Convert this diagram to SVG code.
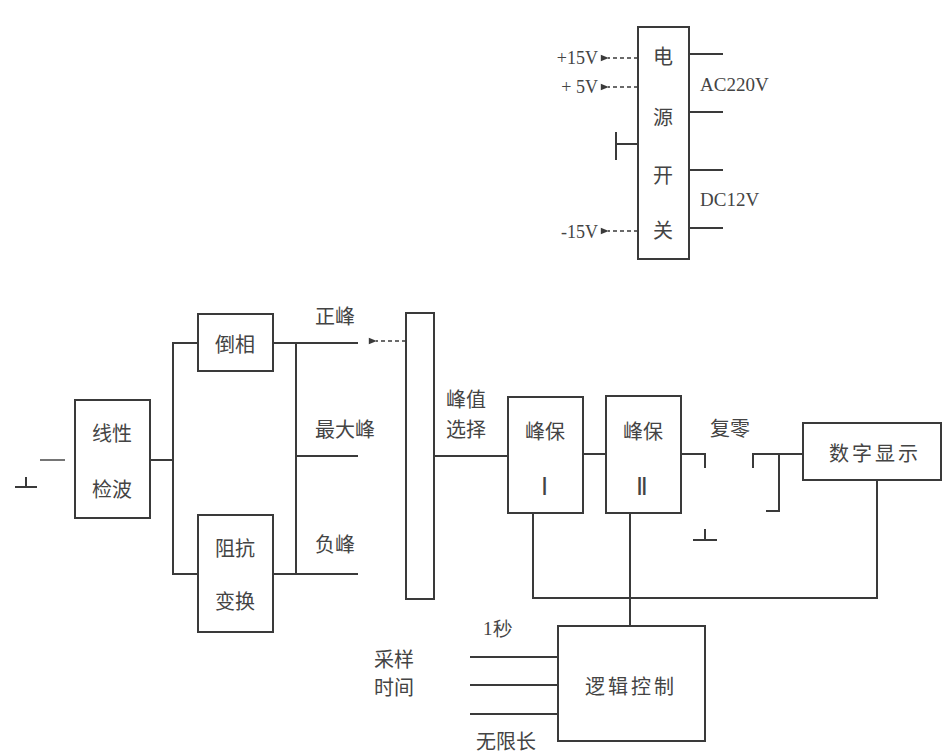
<svg xmlns="http://www.w3.org/2000/svg" width="943" height="754" viewBox="0 0 943 754">
<defs>
<style>
.b{fill:none;stroke:#3a3a3a;stroke-width:2}
.l{fill:none;stroke:#3a3a3a;stroke-width:2}
.d{fill:none;stroke:#3a3a3a;stroke-width:1.6;stroke-dasharray:4 3}
.t{font-family:"Noto Sans CJK SC","Liberation Serif",serif;font-size:20px;fill:#444;text-anchor:middle;dominant-baseline:central}
.s{font-family:"Liberation Serif",serif;font-size:18px;fill:#444;dominant-baseline:central}
.r{font-family:"Liberation Serif",serif;font-size:24px;fill:#444;text-anchor:middle;dominant-baseline:central}
</style>
<marker id="ah" viewBox="0 0 10 10" refX="1" refY="5" markerWidth="10" markerHeight="8" orient="auto-start-reverse" markerUnits="userSpaceOnUse">
<path d="M0,5 L10,1 L10,9 Z" fill="#3a3a3a"/>
</marker>
</defs>
<rect width="943" height="754" fill="#fff"/>

<g id="power">
<rect class="b" x="638" y="27" width="51" height="232"/>
<text class="t" x="663" y="55">电</text>
<text class="t" x="663" y="116">源</text>
<text class="t" x="663" y="174">开</text>
<text class="t" x="663" y="229">关</text>
</g>
<g id="power-labels">
<text class="s" x="598" y="58" text-anchor="end">+15V</text>
<text class="s" x="598" y="87" text-anchor="end">+ 5V</text>
<text class="s" x="598" y="232" text-anchor="end">-15V</text>
<text class="s" x="700" y="84" style="font-size:19px">AC220V</text>
<text class="s" x="700" y="199" style="font-size:19px">DC12V</text>
</g>

<g id="linear">
<rect class="b" x="75" y="400" width="75" height="118"/>
<text class="t" x="112" y="432">线性</text>
<text class="t" x="112" y="488">检波</text>
</g>
<g id="invert">
<rect class="b" x="198" y="314" width="75" height="57"/>
<text class="t" x="235" y="343">倒相</text>
</g>
<g id="impedance">
<rect class="b" x="198" y="515" width="75" height="117"/>
<text class="t" x="235" y="547">阻抗</text>
<text class="t" x="235" y="600">变换</text>
</g>
<g id="select">
<rect class="b" x="406" y="313" width="28" height="286"/>
<text class="t" x="466" y="398">峰值</text>
<text class="t" x="466" y="428">选择</text>
</g>
<g id="hold1">
<rect class="b" x="508" y="397" width="75" height="116"/>
<text class="t" x="545" y="430">峰保</text>
<text class="r" x="544" y="487">Ⅰ</text>
</g>
<g id="hold2">
<rect class="b" x="606" y="396" width="75" height="117"/>
<text class="t" x="643" y="430">峰保</text>
<text class="r" x="642" y="487">Ⅱ</text>
</g>
<g id="display">
<rect class="b" x="803" y="423" width="138" height="57"/>
<text class="t" x="875" y="452" style="letter-spacing:3px">数字显示</text>
</g>
<g id="logic">
<rect class="b" x="558" y="626" width="147" height="115"/>
<text class="t" x="631" y="685" style="letter-spacing:3px">逻辑控制</text>
</g>

<g id="labels">
<text class="t" x="335" y="315">正峰</text>
<text class="t" x="345" y="428">最大峰</text>
<text class="t" x="335" y="543">负峰</text>
<text class="t" x="730" y="427">复零</text>
<text class="s" x="483" y="628" style="font-size:19px">1秒</text>
<text class="t" x="394" y="658">采样</text>
<text class="t" x="394" y="686">时间</text>
<text class="t" x="506" y="740">无限长</text>
</g>

<g id="connectors">
<line class="d" x1="638" y1="58" x2="608" y2="58" marker-end="url(#ah)"/>
<line class="d" x1="638" y1="87" x2="608" y2="87" marker-end="url(#ah)"/>
<line class="d" x1="638" y1="231" x2="608" y2="231" marker-end="url(#ah)"/>
<line class="l" x1="616" y1="144" x2="638" y2="144"/>
<line class="l" x1="616" y1="132" x2="616" y2="160"/>
<line class="l" x1="689" y1="54" x2="723" y2="54"/>
<line class="l" x1="689" y1="112" x2="723" y2="112"/>
<line class="l" x1="689" y1="170" x2="723" y2="170"/>
<line class="l" x1="689" y1="228" x2="723" y2="228"/>
<line class="l" x1="40" y1="460" x2="65" y2="460" style="stroke-width:1.4"/>
<line class="l" x1="15" y1="487" x2="37" y2="487"/>
<line class="l" x1="26" y1="477" x2="26" y2="487"/>
<polyline class="l" points="150,460 173,460"/>
<polyline class="l" points="198,343 173,343 173,574 198,574"/>
<line class="l" x1="273" y1="343" x2="358" y2="343"/>
<line class="l" x1="273" y1="574" x2="358" y2="574"/>
<line class="l" x1="296" y1="343" x2="296" y2="574"/>
<line class="l" x1="296" y1="456" x2="358" y2="456"/>
<line class="d" x1="406" y1="341" x2="376" y2="341" marker-end="url(#ah)"/>
<line class="l" x1="434" y1="456" x2="508" y2="456"/>
<line class="l" x1="583" y1="454" x2="606" y2="454"/>
<polyline class="l" points="681,454 705,454 705,468"/>
<line class="l" x1="693" y1="540" x2="717" y2="540"/>
<line class="l" x1="705" y1="529" x2="705" y2="540"/>
<polyline class="l" points="753,468 753,454 803,454"/>
<polyline class="l" points="779,454 779,511 766,511"/>
<polyline class="l" points="533,513 533,598 877,598 877,480"/>
<line class="l" x1="630" y1="513" x2="630" y2="626"/>
<line class="l" x1="470" y1="657" x2="558" y2="657"/>
<line class="l" x1="470" y1="685" x2="558" y2="685"/>
<line class="l" x1="470" y1="714" x2="558" y2="714"/>
</g>
</svg>
